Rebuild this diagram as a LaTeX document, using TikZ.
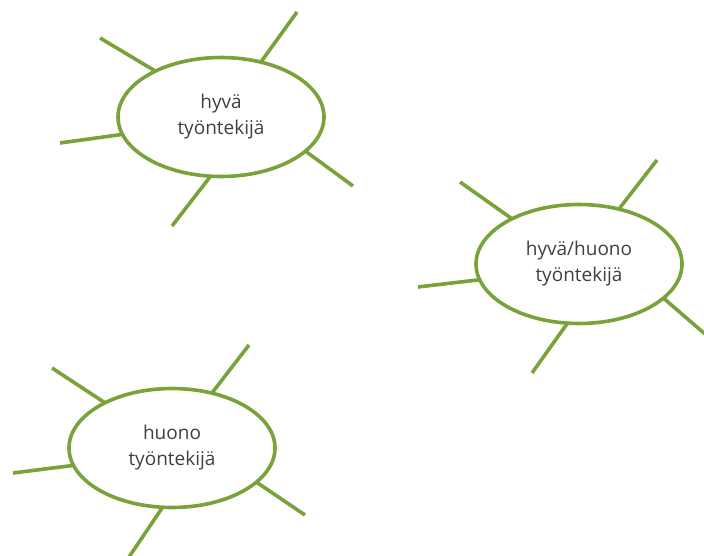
\documentclass[tikz,border=0pt]{standalone}
\usepackage{fontspec}
\setmainfont{Open Sans}
\usetikzlibrary{shapes.geometric}
\definecolor{leaf}{RGB}{122,162,58}
\definecolor{ink}{RGB}{64,64,64}
\tikzset{
  bubble/.style={ellipse, draw=leaf, line width=3.6pt, fill=white,
    minimum width=206pt, minimum height=119pt, inner sep=0pt, outer sep=0pt,
    align=center, text=ink, font=\fontsize{19}{26}\selectfont},
  spoke/.style={draw=leaf, line width=3.6pt}
}
\begin{document}
\begin{tikzpicture}[x=1pt,y=-1pt]
\useasboundingbox (0,0) rectangle (704,556);
% top-left bubble
\node[bubble] (e1) at (221,117) {hyvä\\työntekijä};
\coordinate (a1) at (100,38);
\coordinate (a2) at (297,12);
\coordinate (a3) at (60,143);
\coordinate (a4) at (353,186);
\coordinate (a5) at (172,226);
\draw[spoke] (e1.145) -- (a1);
\draw[spoke] (e1.54) -- (a2);
\draw[spoke] (e1.190) -- (a3);
\draw[spoke] (e1.-22) -- (a4);
\draw[spoke] (e1.-100) -- (a5);
% right bubble
\node[bubble] (e2) at (579,264) {hyvä/huono\\työntekijä};
\coordinate (b1) at (460,182);
\coordinate (b2) at (657,160);
\coordinate (b3) at (418,287);
\coordinate (b4) at (712,340);
\coordinate (b5) at (532,373);
\draw[spoke] (e2.146) -- (b1);
\draw[spoke] (e2.54) -- (b2);
\draw[spoke] (e2.189) -- (b3);
\draw[spoke] (e2.-22) -- (b4);
\draw[spoke] (e2.-101) -- (b5);
% bottom-left bubble
\node[bubble] (e3) at (172,448) {huono\\työntekijä};
\coordinate (c1) at (52,368);
\coordinate (c2) at (249,345);
\coordinate (c3) at (13,473);
\coordinate (c4) at (305,515);
\coordinate (c5) at (127,560);
\draw[spoke] (e3.146) -- (c1);
\draw[spoke] (e3.54) -- (c2);
\draw[spoke] (e3.190) -- (c3);
\draw[spoke] (e3.-22) -- (c4);
\draw[spoke] (e3.-99) -- (c5);
\end{tikzpicture}
\end{document}
